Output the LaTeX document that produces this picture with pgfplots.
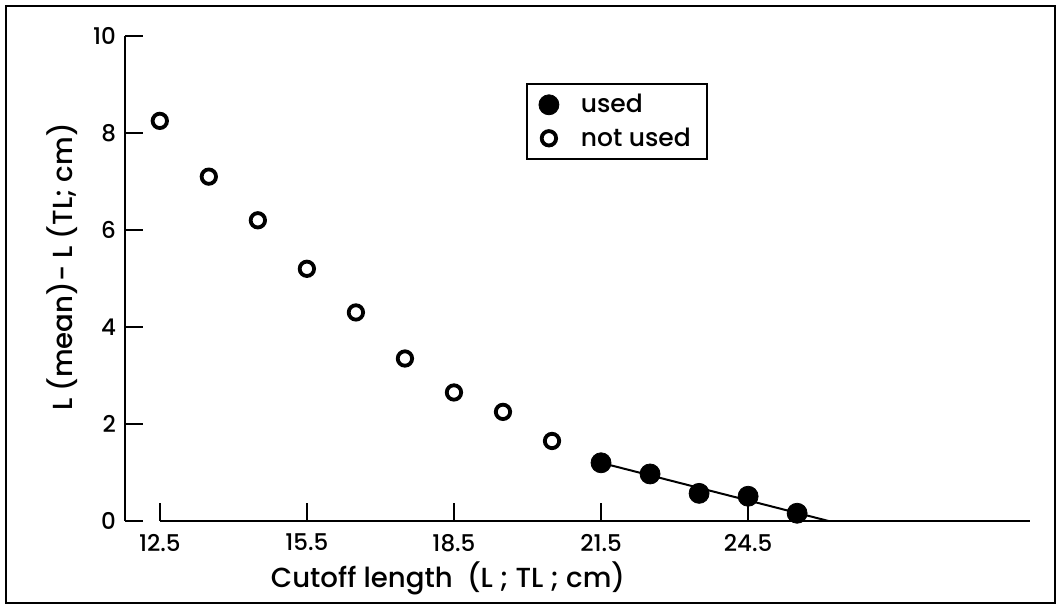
\documentclass[border=0pt]{standalone}
\usepackage{pgfplots}
\pgfplotsset{compat=1.18}
\usepackage{fontspec}
\setmainfont{Poppins}[UprightFont=* Medium]
\begin{document}
\begin{tikzpicture}[x=1pt,y=1pt]
  \path (0,0) rectangle (529.5,304);
  \draw[line width=1.2pt] (3,2.5) rectangle (527.5,301);
  \begin{axis}[
      at={(62.5pt,43.5pt)}, anchor=south west,
      scale only axis,
      width=452.5pt, height=242.5pt,
      xmin=11.79, xmax=30.25,
      ymin=0, ymax=10,
      axis lines=left,
      x axis line style={draw=none},
      y axis line style={-, line width=1.3pt},
      tick align=inside,
      major tick length=9pt,
      tick style={black, line width=1.1pt},
      xtick={12.5,15.5,18.5,21.5,24.5},
      ytick={0,2,4,6,8,10},
      /pgf/number format/assume math mode=true,
      xticklabel style={yshift=-3pt, /pgf/number format/fixed,
        /pgf/number format/fixed zerofill, /pgf/number format/precision=1},
      yticklabel style={xshift=-1pt},
      ticklabel style={font=\fontsize{11.5}{13}\selectfont},
      clip=false,
      legend style={at={(0.443,0.903)}, anchor=north west, draw=black,
        line width=1pt, font=\fontsize{12.5}{15}\selectfont,
        inner xsep=6pt, inner ysep=3pt, row sep=2pt},
      legend cell align=left,
    ]
    \draw[line width=1.3pt] (axis cs:12.5,0) -- (axis cs:30.25,0);
    % regression line through the used points
    \addplot[black, line width=1pt, forget plot] coordinates {(21.5,1.2) (26.14,0)};
    \addplot[only marks, mark=*, mark size=5pt, black, line width=0.4pt] coordinates {
      (21.5,1.2) (22.5,0.97) (23.5,0.57) (24.5,0.51) (25.5,0.16)};
    \addlegendentry{\hspace{9pt}used}
    \addplot[only marks, mark=o, mark size=3.6pt, black, line width=1.9pt] coordinates {
      (12.5,8.25) (13.5,7.1) (14.5,6.2) (15.5,5.2) (16.5,4.3)
      (17.5,3.35) (18.5,2.65) (19.5,2.25) (20.5,1.65)};
    \addlegendentry{\hspace{9pt}not used}
  \end{axis}
  \node[font=\fontsize{13.8}{16}\selectfont] at (224,15) {Cutoff length\ \ (L ; TL ; cm)};
  \node[font=\fontsize{13.8}{16}\selectfont, rotate=90] at (31,170.5) {L (mean)- L (TL; cm)};
\end{tikzpicture}
\end{document}
